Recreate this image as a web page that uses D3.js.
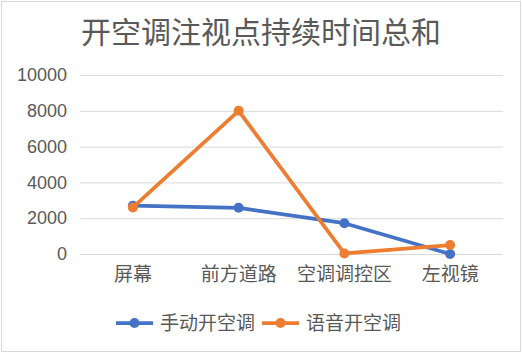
<!DOCTYPE html>
<html>
<head>
<meta charset="utf-8">
<script src="https://cdn.jsdelivr.net/npm/d3@7"></script>
<style>
    body { margin: 0; background: #fff; }
    text { font-family: "Noto Sans CJK SC", "Liberation Sans", sans-serif; fill: #595959; }
</style>
</head>
<body>
<svg></svg>
<script>
"use strict";

var title = '开空调注视点持续时间总和';
var categories = ['屏幕', '前方道路', '空调调控区', '左视镜'];
var seriesNames = ['手动开空调', '语音开空调'];
var manualValues = [2700, 2580, 1720, 0];
var voiceValues = [2600, 8000, 30, 500];
var yTicks = [0, 2000, 4000, 6000, 8000, 10000];

var settings = {
    svg: { width: 522, height: 353 },
    plot: { left: 80, right: 503, top: 75, bottom: 254 },
    colors: ['#4472C4', '#ED7D31'],
    grid: '#d9d9d9',
    lineWidth: 3.75,
    markerRadius: 5
};

var series = [
    { name: seriesNames[0], values: manualValues, color: settings.colors[0] },
    { name: seriesNames[1], values: voiceValues, color: settings.colors[1] }
];

var svg = d3.select('svg')
    .attr('width', settings.svg.width)
    .attr('height', settings.svg.height);

// chart border
svg.append('rect')
    .attr('x', 1.5).attr('y', 1.5)
    .attr('width', settings.svg.width - 3)
    .attr('height', settings.svg.height - 3)
    .attr('fill', 'white')
    .attr('stroke', settings.grid)
    .attr('stroke-width', 1);

svg.append('text')
    .attr('x', 261)
    .attr('y', 43)
    .attr('text-anchor', 'middle')
    .style('font-size', '30px')
    .text(title);

var x = d3.scaleBand()
    .domain(categories)
    .range([settings.plot.left, settings.plot.right]);

var y = d3.scaleLinear()
    .domain([0, 10000])
    .range([settings.plot.bottom, settings.plot.top]);

// gridlines + y labels
var yAxis = svg.append('g')
    .attr('transform', `translate(${settings.plot.left},0)`)
    .call(d3.axisLeft(y)
        .tickValues(yTicks)
        .tickSize(-(settings.plot.right - settings.plot.left))
        .tickPadding(13)
        .tickFormat(d3.format('d')));
yAxis.select('.domain').remove();
yAxis.selectAll('line').attr('stroke', settings.grid);
yAxis.selectAll('text')
    .style('font-family', '"Liberation Sans", sans-serif')
    .style('font-size', '18px')
    .attr('fill', '#595959');

// x labels
var xAxis = svg.append('g')
    .attr('transform', `translate(0,${settings.plot.bottom})`)
    .call(d3.axisBottom(x).tickSize(0).tickPadding(14));
xAxis.select('.domain').remove();
xAxis.selectAll('text')
    .style('font-size', '19px')
    .attr('fill', '#595959');

var cx = d => x(d) + x.bandwidth() / 2;

var line = d3.line()
    .x((d, i) => cx(categories[i]))
    .y(d => y(d));

var lines = svg.append('g')
    .selectAll('g')
    .data(series)
    .enter()
    .append('g');

lines.append('path')
    .attr('d', d => line(d.values))
    .attr('fill', 'none')
    .attr('stroke', d => d.color)
    .attr('stroke-width', settings.lineWidth)
    .attr('stroke-linejoin', 'round');

lines.selectAll('circle')
    .data(d => d.values.map(v => ({ v: v, color: d.color })))
    .enter()
    .append('circle')
    .attr('cx', (d, i) => cx(categories[i]))
    .attr('cy', d => y(d.v))
    .attr('r', settings.markerRadius)
    .attr('fill', d => d.color);

// legend
var legendX = [116, 262];
var legend = svg.append('g')
    .selectAll('g')
    .data(series)
    .enter()
    .append('g')
    .attr('transform', (d, i) => `translate(${legendX[i]},323)`);

legend.append('line')
    .attr('x1', 0).attr('x2', 37)
    .attr('stroke', d => d.color)
    .attr('stroke-width', settings.lineWidth);
legend.append('circle')
    .attr('cx', 18.5)
    .attr('r', settings.markerRadius)
    .attr('fill', d => d.color);
legend.append('text')
    .attr('x', 44)
    .attr('dy', '0.35em')
    .style('font-size', '19px')
    .text(d => d.name);
</script>
</body>
</html>
